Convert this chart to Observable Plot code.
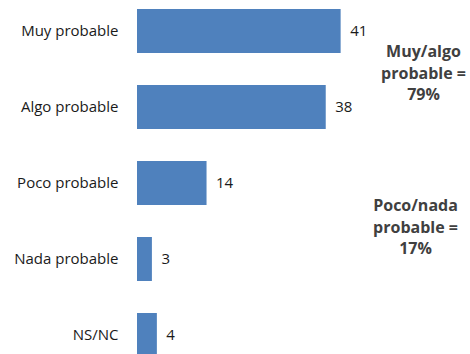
<!DOCTYPE html>
<html>
<head>
<meta charset="utf-8">
<script src="https://cdn.jsdelivr.net/npm/d3@7"></script>
<script src="https://cdn.jsdelivr.net/npm/@observablehq/plot@0.6"></script>
<style>
  html, body { margin: 0; padding: 0; background: #fff; overflow: hidden; }
  #chart svg { display: block; }
</style>
</head>
<body>
<div id="chart"></div>
<script>
const categories = ["Muy probable", "Algo probable", "Poco probable", "Nada probable", "NS/NC"];
const values = [41, 38, 14, 3, 4];
const groupTop = ["Muy probable", "Algo probable"];
const groupBottom = ["Poco probable", "Nada probable"];
const groupTopLabel = "Muy/algo\nprobable =";
const groupBottomLabel = "Poco/nada\nprobable =";

const data = categories.map((c, i) => ({category: c, value: values[i]}));
const sumOf = (g) => d3.sum(data.filter(d => g.includes(d.category)), d => d.value);
const notes = [
  {category: groupTop[0], text: `${groupTopLabel}\n${sumOf(groupTop)}%`},
  {category: groupBottom[0], text: `${groupBottomLabel}\n${sumOf(groupBottom)}%`}
];

const font = "'Open Sans', sans-serif";
const plot = Plot.plot({
  width: 470,
  height: 354,
  marginLeft: 137,
  marginRight: 35,
  marginTop: 0,
  marginBottom: 0,
  style: {fontFamily: font, fontSize: "15px", color: "#1a1a1a", background: "#fff"},
  x: {domain: [0, 60], axis: null},
  y: {domain: categories, range: [0, 367], paddingInner: 0.416, paddingOuter: 0.118, label: null},
  marks: [
    Plot.barX(data, {x: "value", y: "category", fill: "#4F81BD"}),
    Plot.text(data, {x: "value", y: "category", text: d => String(d.value), textAnchor: "start", dx: 9, fill: "#1a1a1a", fontSize: 15}),
    Plot.axisY({tickSize: 0, tickPadding: 19, fontSize: 15, label: null}),
    Plot.text([notes[0]], {y: "category", text: "text", frameAnchor: "right", dx: -12, dy: 40, textAnchor: "middle", fontWeight: "bold", fontSize: 16, lineHeight: 1.37, fill: "#404040"}),
    Plot.text([notes[1]], {y: "category", text: "text", frameAnchor: "right", dx: -20, dy: 42, textAnchor: "middle", fontWeight: "bold", fontSize: 16, lineHeight: 1.37, fill: "#404040"})
  ]
});
document.getElementById("chart").appendChild(plot);
</script>
</body>
</html>
